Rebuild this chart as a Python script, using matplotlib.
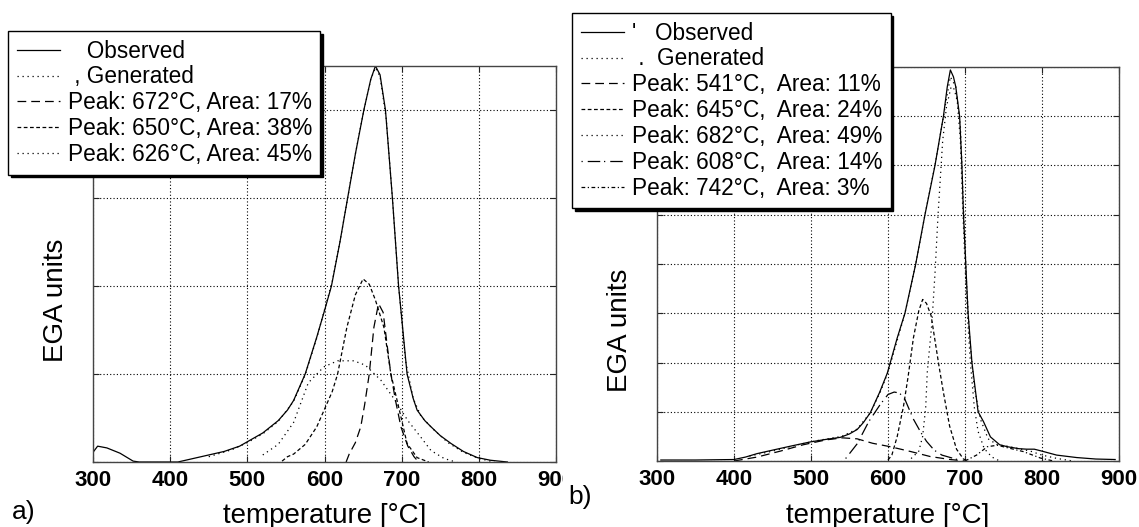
import matplotlib
matplotlib.use("Agg")
import matplotlib.pyplot as plt
from matplotlib.patches import Rectangle

plt.rcParams['font.family'] = ['Liberation Sans', 'DejaVu Sans']

# ---- panel a) : three-peak deconvolution ----
obs_a_T = [300, 306, 318, 335, 352, 360, 410, 430, 450, 470, 490, 504, 520, 530, 540, 552, 560,
           575, 590, 600, 609, 620, 630, 640, 651, 660, 666, 672, 679, 688, 696, 700, 707, 715,
           720, 730, 738, 750, 764, 780, 798, 815, 837]
obs_a = [0.11, 0.18, 0.16, 0.10, 0.01, 0.0, 0.0, 0.04, 0.08, 0.12, 0.18, 0.25, 0.33, 0.40, 0.47, 0.59, 0.70,
         1.0, 1.42, 1.72, 2.0, 2.5, 3.0, 3.5, 4.0, 4.35, 4.5, 4.4, 4.0, 3.0, 2.0, 1.64, 1.0, 0.72,
         0.59, 0.47, 0.40, 0.30, 0.21, 0.12, 0.05, 0.02, 0.0]

gen_a_T = [450, 480, 500, 520, 540, 560, 575, 590, 600, 610, 620, 630, 640, 650, 660, 666, 672,
           680, 688, 696, 705, 715, 725, 740, 760, 780, 800, 820]
gen_a = [0.06, 0.14, 0.22, 0.32, 0.46, 0.69, 0.99, 1.41, 1.73, 2.05, 2.5, 3.0, 3.5, 3.95, 4.35, 4.48, 4.38,
         3.9, 3.0, 2.0, 1.15, 0.72, 0.52, 0.38, 0.22, 0.11, 0.04, 0.0]

p672_T = [628, 632, 640, 647, 652, 658, 664, 670, 676, 681, 686, 692, 699, 708, 716, 720]
p672 = [0.0, 0.09, 0.22, 0.40, 0.65, 1.0, 1.53, 1.8, 1.7, 1.34, 1.0, 0.7, 0.4, 0.18, 0.06, 0.02]

p650_T = [545, 552, 560, 575, 590, 600, 610, 617, 629, 640, 650, 658, 666, 677, 686, 697, 707, 720, 735]
p650 = [0.01, 0.06, 0.09, 0.2, 0.4, 0.6, 0.8, 1.0, 1.53, 1.9, 2.08, 2.02, 1.84, 1.53, 1.0, 0.59, 0.21, 0.05, 0.0]

p626_T = [520, 540, 560, 579, 599, 617, 638, 653, 673, 690, 708, 725, 738, 755, 770]
p626 = [0.08, 0.2, 0.45, 0.9, 1.08, 1.15, 1.15, 1.1, 0.93, 0.72, 0.47, 0.28, 0.13, 0.04, 0.0]

labels_a = ["   Observed", " , Generated",
            "Peak: 672°C, Area: 17%",
            "Peak: 650°C, Area: 38%",
            "Peak: 626°C, Area: 45%"]

# ---- panel b) : five-peak deconvolution ----
obs_b_T = [305, 350, 400, 415, 430, 450, 473, 500, 520, 538, 550, 560, 568, 577, 589, 599, 603,
           612, 622, 636, 648, 661, 672, 677, 681, 685, 688, 693, 696, 698, 701, 704, 709, 717,
           724, 733, 745, 755, 770, 780, 790, 800, 819, 845, 870, 895]
obs_b = [0.02, 0.02, 0.03, 0.08, 0.15, 0.22, 0.30, 0.39, 0.44, 0.48, 0.55, 0.64, 0.78, 0.98, 1.39, 1.78, 2.0,
         2.5, 3.0, 4.0, 5.0, 6.0, 7.0, 7.6, 7.94, 7.8, 7.6, 7.0, 6.0, 5.0, 4.0, 3.0, 2.0, 1.0,
         0.8, 0.49, 0.33, 0.29, 0.25, 0.24, 0.24, 0.20, 0.12, 0.07, 0.04, 0.03]

gen_b_T = [420, 450, 480, 510, 540, 560, 577, 590, 600, 612, 622, 636, 648, 661, 672, 681, 688,
           694, 698, 702, 706, 712, 720, 730, 742, 755, 770, 785, 800, 820, 840]
gen_b = [0.1, 0.2, 0.32, 0.42, 0.5, 0.65, 0.98, 1.4, 1.8, 2.45, 3.0, 4.0, 5.0, 6.0, 7.0, 7.8, 7.6,
         6.8, 5.2, 3.6, 2.5, 1.5, 0.85, 0.45, 0.33, 0.3, 0.25, 0.2, 0.12, 0.05, 0.0]

p541_T = [400, 430, 460, 490, 520, 541, 560, 580, 603, 630, 655, 681, 700]
p541 = [0.0, 0.08, 0.2, 0.33, 0.43, 0.47, 0.45, 0.36, 0.29, 0.19, 0.09, 0.03, 0.0]

p645_T = [600, 605, 612, 620, 626, 633, 640, 645, 650, 656, 661, 666, 672, 680, 689, 698, 705]
p645 = [0.02, 0.12, 0.5, 1.1, 1.7, 2.5, 3.05, 3.28, 3.2, 2.95, 2.45, 1.95, 1.39, 0.71, 0.24, 0.04, 0.0]

p682_T = [630, 640, 645, 649, 651, 657, 661, 665, 671, 676, 682, 686, 690, 694, 697, 700, 703,
          707, 712, 717, 725, 735, 745]
p682 = [0.05, 0.2, 0.5, 1.1, 1.8, 2.8, 3.8, 5.0, 6.5, 7.2, 7.6, 7.55, 7.3, 6.5, 5.15, 4.0, 3.0,
        2.0, 1.1, 0.6, 0.25, 0.08, 0.0]

p608_T = [545, 560, 575, 590, 600, 608, 615, 622, 633, 643, 650, 660, 670, 690]
p608 = [0.05, 0.35, 0.8, 1.15, 1.35, 1.4, 1.38, 1.25, 0.85, 0.57, 0.4, 0.22, 0.12, 0.03]

p742_T = [700, 715, 729, 742, 755, 776, 798, 815]
p742 = [0.0, 0.12, 0.29, 0.32, 0.27, 0.19, 0.06, 0.0]

labels_b = ["'   Observed", " .  Generated",
            "Peak: 541°C,  Area: 11%",
            "Peak: 645°C,  Area: 24%",
            "Peak: 682°C,  Area: 49%",
            "Peak: 608°C,  Area: 14%",
            "Peak: 742°C,  Area: 3%"]

x_ticks = [300, 400, 500, 600, 700, 800, 900]

W, H = 1139, 527
fig = plt.figure(figsize=(W / 100, H / 100), dpi=100)


def fx(px):
    return px / W


def fy(py):
    return 1 - py / H


ax_a = fig.add_axes([fx(93), fy(462), fx(556 - 93), (462 - 66) / H], zorder=0)
ax_b = fig.add_axes([fx(657), fy(461), fx(1119 - 657), (461 - 67) / H], zorder=2)

# white sheet that clips panel a's last tick label
fig.add_artist(Rectangle((fx(563), 0), 1 - fx(563), 1, transform=fig.transFigure,
                         facecolor='white', edgecolor='none', zorder=1))

kw = dict(color='black', lw=0.9)
solid = '-'
dotted = (0, (1, 3))
longdash = (0, (7, 4))
shortdash = (0, (3, 2))
dotdash = (0, (1, 4, 10, 3))
dashdot = (0, (3, 2, 1, 2))

ax_a.plot(obs_a_T, obs_a, linestyle=solid, **kw)
ax_a.plot(gen_a_T, gen_a, linestyle=dotted, **kw)
ax_a.plot(p672_T, p672, linestyle=longdash, **kw)
ax_a.plot(p650_T, p650, linestyle=shortdash, **kw)
ax_a.plot(p626_T, p626, linestyle=dotted, **kw)

ax_b.plot(obs_b_T, obs_b, linestyle=solid, **kw)
ax_b.plot(gen_b_T, gen_b, linestyle=dotted, **kw)
ax_b.plot(p541_T, p541, linestyle=longdash, **kw)
ax_b.plot(p645_T, p645, linestyle=shortdash, **kw)
ax_b.plot(p682_T, p682, linestyle=dotted, **kw)
ax_b.plot(p608_T, p608, linestyle=dotdash, **kw)
ax_b.plot(p742_T, p742, linestyle=dashdot, **kw)

for ax, ymax in ((ax_a, 4.5), (ax_b, 8)):
    ax.set_xlim(300, 900)
    ax.set_ylim(0, ymax)
    ax.set_xticks(x_ticks)
    ax.set_yticks(range(0, int(ymax) + 1))
    ax.set_yticklabels([])
    ax.tick_params(direction='in', length=4, width=0.8, top=True, right=True,
                   labelsize=16, pad=5.5, color='#222222')
    for lab in ax.get_xticklabels():
        lab.set_fontweight('bold')
    ax.grid(True, color='black', linestyle=(0, (1, 2)), linewidth=0.8)
    for sp in ax.spines.values():
        sp.set_color('#444444')
        sp.set_linewidth(1.0)

leg_kw = dict(loc='upper left', bbox_transform=fig.transFigure, borderaxespad=0,
              fontsize=16.3, handlelength=1.9, handletextpad=0.35, borderpad=0.38,
              labelspacing=0.125, fancybox=False, framealpha=1, edgecolor='black',
              shadow={'color': 'black', 'alpha': 1})
leg_a = ax_a.legend(ax_a.get_lines(), labels_a, bbox_to_anchor=(fx(8), fy(31)), **leg_kw)
leg_b = ax_b.legend(ax_b.get_lines(), labels_b, bbox_to_anchor=(fx(572), fy(13)), **leg_kw)
for leg in (leg_a, leg_b):
    leg.get_frame().set_linewidth(1.0)

fig.text(fx(56), fy(300), "EGA units", rotation=90, fontsize=20, ha='center', va='center')
fig.text(fx(620), fy(330), "EGA units", rotation=90, fontsize=20, ha='center', va='center')
fig.text(fx(325), fy(516), "temperature [°C]", fontsize=20, ha='center', va='center')
fig.text(fx(888), fy(516), "temperature [°C]", fontsize=20, ha='center', va='center')
fig.text(fx(12), fy(512), "a)", fontsize=19, ha='left', va='center')
fig.text(fx(568), fy(497), "b)", fontsize=19, ha='left', va='center')

fig.savefig("out.png", dpi=100)
